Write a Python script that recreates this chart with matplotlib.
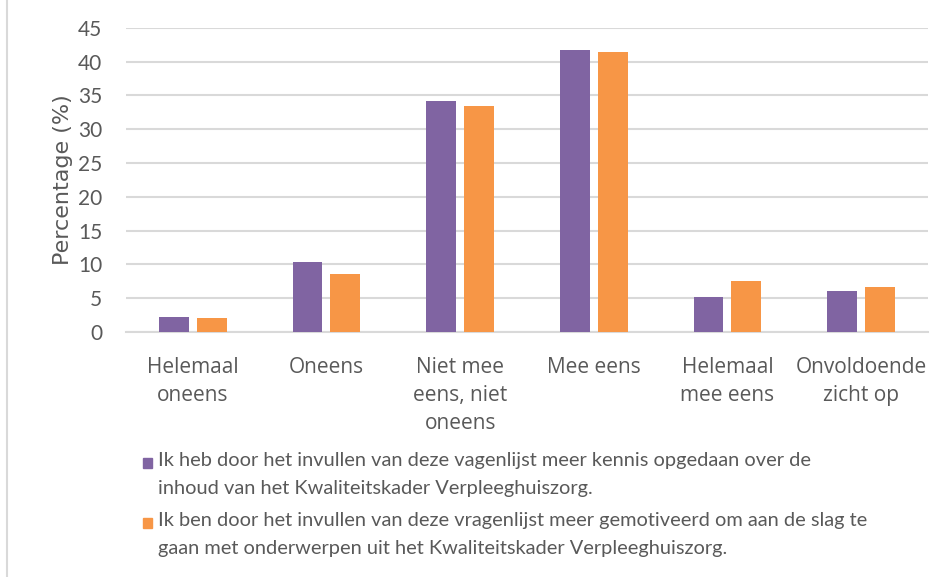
import matplotlib
matplotlib.use("Agg")
import matplotlib.pyplot as plt
from matplotlib.patches import Rectangle
from matplotlib.lines import Line2D
import numpy as np

categories = ["Helemaal\noneens", "Oneens", "Niet mee\neens, niet\noneens",
              "Mee eens", "Helemaal\nmee eens", "Onvoldoende\nzicht op"]
kennis = [2.2, 10.3, 34.2, 41.8, 5.2, 6.1]
motivatie = [2.0, 8.6, 33.4, 41.5, 7.5, 6.7]
legend_labels = [
    "Ik heb door het invullen van deze vagenlijst meer kennis opgedaan over de\n"
    "inhoud van het Kwaliteitskader Verpleeghuiszorg.",
    "Ik ben door het invullen van deze vragenlijst meer gemotiveerd om aan de slag te\n"
    "gaan met onderwerpen uit het Kwaliteitskader Verpleeghuiszorg.",
]
yticks = [0, 5, 10, 15, 20, 25, 30, 35, 40, 45]

purple = "#8064a2"
orange = "#f79646"
grey_txt = "#595959"
grid_col = "#d9d9d9"

fig = plt.figure(figsize=(9.45, 5.77), dpi=100)
ax = fig.add_axes([0.1333, 0.4246, 0.8487, 0.527])

x = np.arange(len(categories))
w = 0.224
off = 0.142
ax.bar(x - off, kennis, w, color=purple, zorder=3)
ax.bar(x + off, motivatie, w, color=orange, zorder=3)

ax.set_xlim(-0.5, len(categories) - 0.5)
ax.set_ylim(0, 45)
ax.set_yticks(yticks)
ax.set_yticklabels([str(t) for t in yticks], fontsize=15, color=grey_txt, family="Lato")
ax.set_xticks(x)
ax.set_xticklabels(categories, fontsize=15, color=grey_txt, family="Open Sans", linespacing=1.45)
ax.tick_params(axis="both", length=0)
ax.tick_params(axis="y", pad=17)
ax.tick_params(axis="x", pad=18)
ax.grid(axis="y", color=grid_col, linewidth=1.5, zorder=0)
for s in ["top", "right", "left"]:
    ax.spines[s].set_visible(False)
ax.spines["bottom"].set_color(grid_col)
ax.spines["bottom"].set_linewidth(1.5)

ax.set_ylabel("Percentage (%)", fontsize=16, color=grey_txt, family="DejaVu Sans", labelpad=4)

# legend drawn by hand so the square sits next to the first line
W, H = 945, 577
items = [(purple, legend_labels[0], 463), (orange, legend_labels[1], 523)]
for col, lab, yc in items:
    fig.patches.append(Rectangle((143 / W, 1 - (yc + 5) / H), 9 / W, 10 / H,
                                 transform=fig.transFigure, color=col))
    fig.text(158 / W, 1 - (yc - 11) / H, lab, fontsize=14.4, color=grey_txt,
             family="Lato", va="top", ha="left", linespacing=1.78)

# frame line on the left
fig.lines.append(Line2D([7 / W, 7 / W], [0, 1], transform=fig.transFigure,
                        color="#d9d9d9", linewidth=1.5))

fig.savefig("out.png", dpi=100)
